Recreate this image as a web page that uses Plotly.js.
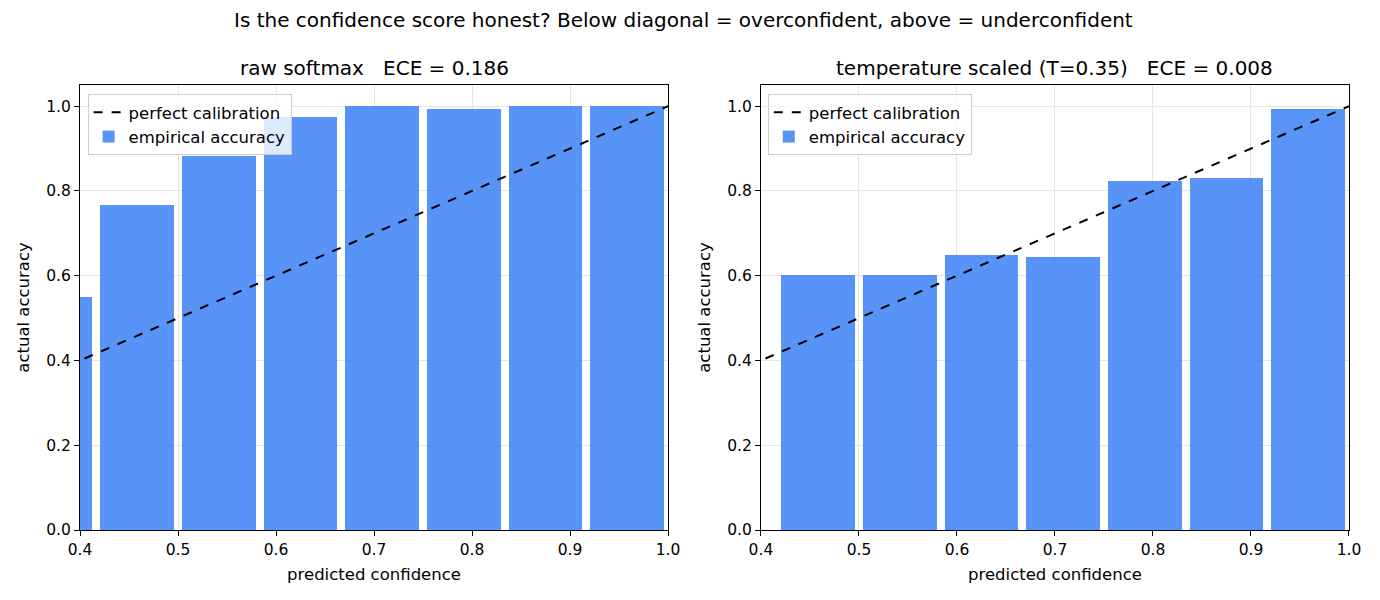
<!DOCTYPE html>
<html>
<head>
<meta charset="utf-8">
<script src="https://cdn.plot.ly/plotly-3.0.1.min.js"></script>
<style>html,body{margin:0;padding:0;background:#fff;}#chart{width:1380px;height:600px;}</style>
</head>
<body>
<div id="chart"></div>
<script>
// bin centers (12 equal bins over [0,1])
const binCenters = [0.375, 0.4583, 0.5417, 0.625, 0.7083, 0.7917, 0.875, 0.9583];
const rawAccuracy = [0.55, 0.766, 0.882, 0.974, 1.0, 0.993, 1.0, 1.0];
const scaledCenters = [0.4583, 0.5417, 0.625, 0.7083, 0.7917, 0.875, 0.9583];
const scaledAccuracy = [0.601, 0.601, 0.648, 0.643, 0.823, 0.830, 0.994];
const diagX = [0, 1];
const diagY = [0, 1];
const xTicks = [0.4, 0.5, 0.6, 0.7, 0.8, 0.9, 1.0];
const yTicks = [0, 0.2, 0.4, 0.6, 0.8, 1.0];
const tickText = (a) => a.map(v => v.toFixed(1));

const FONT = 'DejaVu Sans, sans-serif';
const barColor = '#3b82f6';
const TICK = 15.5, LAB = 16.5, TIT = 20;
const sp = '\u00a0\u00a0\u00a0';

const traces = [
  {x: diagX, y: diagY, type: 'scatter', mode: 'lines', name: 'perfect calibration',
   line: {color: 'black', dash: 'dash', width: 2}, xaxis: 'x', yaxis: 'y', legend: 'legend'},
  {x: binCenters, y: rawAccuracy, type: 'bar', name: 'empirical accuracy', width: 0.075,
   marker: {color: barColor, line: {width: 0}}, opacity: 0.85, xaxis: 'x', yaxis: 'y', legend: 'legend'},
  {x: diagX, y: diagY, type: 'scatter', mode: 'lines', name: 'perfect calibration',
   line: {color: 'black', dash: 'dash', width: 2}, xaxis: 'x2', yaxis: 'y2', legend: 'legend2'},
  {x: scaledCenters, y: scaledAccuracy, type: 'bar', name: 'empirical accuracy', width: 0.075,
   marker: {color: barColor, line: {width: 0}}, opacity: 0.85, xaxis: 'x2', yaxis: 'y2', legend: 'legend2'}
];

function xax(domain, anchor) {
  return {domain: domain, anchor: anchor, range: [0.4, 1.0], tickvals: xTicks, ticktext: tickText(xTicks),
    showgrid: true, gridcolor: '#e6e6e6', gridwidth: 1, zeroline: false,
    showline: true, linecolor: 'black', linewidth: 1, mirror: true,
    ticks: 'outside', ticklen: 5, tickcolor: 'black', tickfont: {size: TICK, color: 'black', family: FONT},
    title: {text: 'predicted confidence', font: {size: LAB, color: 'black', family: FONT}, standoff: 10}};
}
function yax(anchor) {
  return {domain: [0, 1], anchor: anchor, range: [0, 1.05], tickvals: yTicks, ticktext: tickText(yTicks),
    showgrid: true, gridcolor: '#e6e6e6', gridwidth: 1, zeroline: false,
    showline: true, linecolor: 'black', linewidth: 1, mirror: true,
    ticks: 'outside', ticklen: 5, tickcolor: 'black', tickfont: {size: TICK, color: 'black', family: FONT},
    title: {text: 'actual accuracy', font: {size: LAB, color: 'black', family: FONT}, standoff: 12}};
}
const legendStyle = (x) => ({x: x, y: 0.98, xanchor: 'left', yanchor: 'top', xref: 'paper', yref: 'paper',
  bgcolor: 'rgba(255,255,255,0.8)', bordercolor: '#cccccc', borderwidth: 1,
  font: {size: LAB, color: 'black', family: FONT}, traceorder: 'normal', tracegroupgap: 0, itemwidth: 30});

const layout = {
  width: 1380, height: 600,
  margin: {l: 80, r: 31, t: 85, b: 70},
  paper_bgcolor: 'white', plot_bgcolor: 'white',
  font: {family: FONT, color: 'black'},
  bargap: 0,
  xaxis: xax([0, 0.4634], 'y'),
  yaxis: yax('x'),
  xaxis2: xax([0.5366, 1], 'y2'),
  yaxis2: yax('x2'),
  legend: legendStyle(0.006),
  legend2: legendStyle(0.5420),
  annotations: [
    {text: 'Is the confidence score honest? Below diagonal = overconfident, above = underconfident',
     xref: 'paper', yref: 'paper', x: 0.4757, y: 1, yshift: 65, xanchor: 'center', yanchor: 'middle',
     showarrow: false, font: {size: TIT, family: FONT, color: 'black'}},
    {text: 'raw softmax' + sp + 'ECE = 0.186', xref: 'paper', yref: 'paper', x: 0.2317, y: 1, yshift: 17,
     xanchor: 'center', yanchor: 'middle', showarrow: false, font: {size: TIT, family: FONT, color: 'black'}},
    {text: 'temperature scaled (T=0.35)' + sp + 'ECE = 0.008', xref: 'paper', yref: 'paper', x: 0.7683, y: 1, yshift: 17,
     xanchor: 'center', yanchor: 'middle', showarrow: false, font: {size: TIT, family: FONT, color: 'black'}}
  ],
  showlegend: true
};

Plotly.newPlot('chart', traces, layout, {displayModeBar: false, staticPlot: true});
</script>
</body>
</html>
